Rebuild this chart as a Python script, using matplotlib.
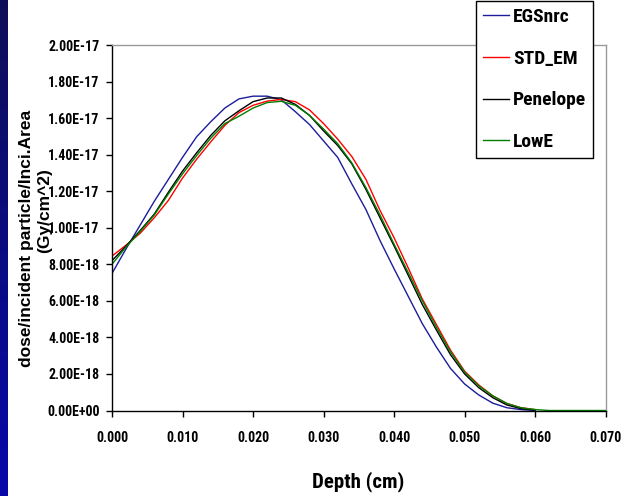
import numpy as np
import matplotlib
matplotlib.use("Agg")
import matplotlib.pyplot as plt
from matplotlib.ticker import FuncFormatter, MultipleLocator
from matplotlib.colors import LinearSegmentedColormap

# depth grid (cm) and dose curves (units of 1e-18 Gy/cm^2)
depth = [0.000, 0.002, 0.004, 0.006, 0.008, 0.010, 0.012, 0.014, 0.016, 0.018,
         0.020, 0.022, 0.024, 0.026, 0.028, 0.030, 0.032, 0.034, 0.036, 0.038,
         0.040, 0.042, 0.044, 0.046, 0.048, 0.050, 0.052, 0.054, 0.056, 0.058,
         0.060]
egsnrc = [7.5, 8.85, 10.15, 11.45, 12.65, 13.85, 14.98, 15.8, 16.55, 17.05,
          17.2, 17.2, 17.0, 16.35, 15.65, 14.75, 13.85, 12.4, 11.0, 9.3,
          7.75, 6.25, 4.75, 3.47, 2.3, 1.45, 0.85, 0.4, 0.15, 0.05, 0.0]
std_em = [8.45, 9.05, 9.7, 10.55, 11.5, 12.72, 13.75, 14.7, 15.6, 16.3,
          16.7, 16.93, 17.02, 16.9, 16.45, 15.7, 14.85, 13.9, 12.65, 10.95,
          9.45, 7.8, 6.1, 4.7, 3.3, 2.15, 1.4, 0.8, 0.38, 0.15, 0.05]
penelope = [8.2, 9.0, 9.85, 10.75, 11.95, 13.1, 14.1, 15.05, 15.85, 16.4,
            16.9, 17.1, 17.1, 16.75, 16.15, 15.3, 14.5, 13.5, 12.1, 10.55,
            9.0, 7.4, 5.8, 4.4, 3.05, 2.0, 1.25, 0.7, 0.3, 0.1, 0.02]
lowe = [8.0, 8.95, 9.8, 10.7, 11.85, 12.95, 13.95, 14.9, 15.7, 16.1,
        16.55, 16.85, 16.92, 16.7, 16.15, 15.4, 14.6, 13.55, 12.2, 10.7,
        9.1, 7.55, 6.0, 4.55, 3.2, 2.1, 1.35, 0.8, 0.38, 0.15, 0.05]
# LowE continues at zero past the end of the others
lowe_tail_x = [0.062, 0.064, 0.066, 0.068, 0.070]
lowe_tail_y = [0.0, 0.0, 0.0, 0.0, 0.0]

names = ["EGSnrc", "STD_EM", "Penelope", "LowE"]
colors = ["#1c1c9c", "#ff0000", "#000000", "#008000"]

narrow = ["Roboto Condensed", "Liberation Sans", "DejaVu Sans"]
wide = ["Liberation Sans", "DejaVu Sans"]

fig = plt.figure(figsize=(6.21, 4.96), dpi=100)

# blue stripe at the left edge
stripe = fig.add_axes([0, 0, 8 / 621, 1])
grad = np.linspace(0, 1, 256).reshape(-1, 1)
cm = LinearSegmentedColormap.from_list("strip", ["#0f0f58", "#0808aa"])
stripe.imshow(grad, aspect="auto", cmap=cm)
stripe.axis("off")

ax = fig.add_axes([112 / 621, 1 - 410.5 / 496, 493.7 / 621, 365.5 / 496])

x = np.array(depth)
series = [egsnrc, std_em, penelope, lowe]
for name, ys, c in zip(names, series, colors):
    xs, vals = x, np.array(ys) * 1e-18
    if name == "LowE":
        xs = np.concatenate([x, lowe_tail_x])
        vals = np.concatenate([vals, np.array(lowe_tail_y) * 1e-18])
    ax.plot(xs, vals, color=c, lw=1.0, label=name)

ax.set_xlim(0, 0.070)
ax.set_ylim(0, 2.0e-17)
ax.xaxis.set_major_locator(MultipleLocator(0.010))
ax.yaxis.set_major_locator(MultipleLocator(2.0e-18))
ax.xaxis.set_major_formatter(FuncFormatter(lambda v, p: f"{v:.3f}"))
ax.yaxis.set_major_formatter(FuncFormatter(lambda v, p: f"{v:.2E}"))
ax.tick_params(axis="both", direction="out", length=4, width=1, color="black")
ax.tick_params(axis="x", pad=11)
ax.tick_params(axis="y", pad=5)
for lab in ax.get_xticklabels() + ax.get_yticklabels():
    lab.set_family(narrow)
    lab.set_fontweight("bold")
    lab.set_fontsize(10)

for s in ["left", "bottom"]:
    ax.spines[s].set_color("black")
    ax.spines[s].set_linewidth(1.0)
for s in ["top", "right"]:
    ax.spines[s].set_color("#9a9a9a")
    ax.spines[s].set_linewidth(1.0)

fig.text(358 / 621, 1 - 482 / 496, "Depth (cm)", ha="center", va="center",
         family=narrow, fontweight="bold", fontsize=15)
# y title: two lines, the second one sits a bit higher in the original
fig.text(27 / 621, 1 - 238 / 496, "dose/incident particle/Inci.Area",
         rotation=90, ha="center", va="center",
         family=wide, fontweight="bold", fontsize=12.5)
fig.text(45 / 621, 1 - 211 / 496, "(Gy/cm^2)",
         rotation=90, ha="center", va="center",
         family=wide, fontweight="bold", fontsize=12.5)

leg = fig.legend(loc="lower left",
                 bbox_to_anchor=(476 / 621, 1 - 158 / 496),
                 borderaxespad=0,
                 frameon=True, fancybox=False, handlelength=1.35,
                 handletextpad=0.2, labelspacing=1.22, borderpad=0.35,
                 prop={"family": narrow, "weight": "bold", "size": 14})
leg.get_frame().set_edgecolor("black")
leg.get_frame().set_linewidth(1.0)
leg.get_frame().set_alpha(1)

fig.savefig("out.png", dpi=100)
